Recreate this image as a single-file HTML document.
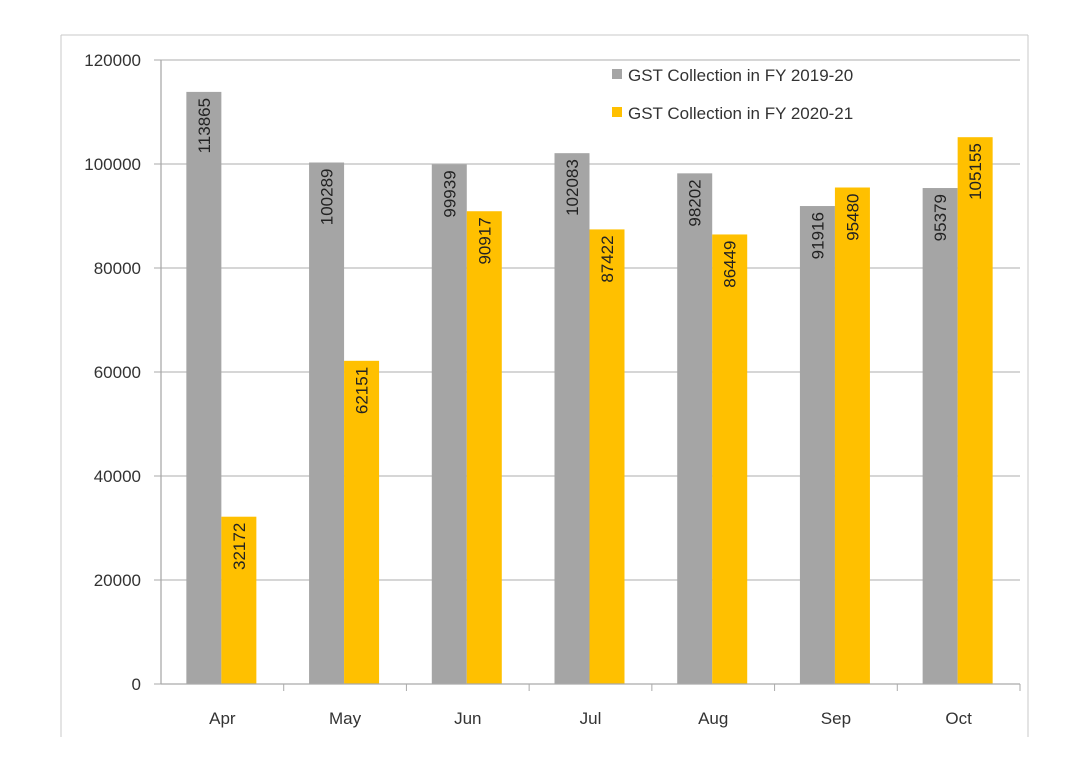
<!DOCTYPE html>
<html><head><meta charset="utf-8"><style>
body{margin:0;background:#fff;}
svg{display:block;font-family:"Liberation Sans",sans-serif;}
</style></head><body>
<svg id="chart" width="1069" height="768">
<line x1="61" y1="35" x2="1028" y2="35" stroke="#c8c8c8"/>
<line x1="61" y1="35" x2="61" y2="737" stroke="#c8c8c8"/>
<line x1="1028" y1="35" x2="1028" y2="737" stroke="#c8c8c8"/>
<g id="grid"></g><g id="bars"></g><g id="axes"></g>
<g>
<rect x="612" y="69" width="10" height="10" fill="#a5a5a5"/>
<text x="628" y="81" font-size="17" fill="#333">GST Collection in FY 2019-20</text>
<rect x="612" y="107" width="10" height="10" fill="#ffc000"/>
<text x="628" y="119" font-size="17" fill="#333">GST Collection in FY 2020-21</text>
</g>
</svg>
<script>
const categories=["Apr","May","Jun","Jul","Aug","Sep","Oct"];
const fy1920=[113865,100289,99939,102083,98202,91916,95379];
const fy2021=[32172,62151,90917,87422,86449,95480,105155];
const yTicks=[0,20000,40000,60000,80000,100000,120000];
const NS="http://www.w3.org/2000/svg";
const X0=161,X1=1020,Y0=684,Y1=60,YMAX=120000;
const y=v=>Y0-(v/YMAX)*(Y0-Y1);
const cw=(X1-X0)/categories.length;
function mk(tag,attrs,parent,txt){const e=document.createElementNS(NS,tag);for(const k in attrs)e.setAttribute(k,attrs[k]);if(txt!==undefined)e.textContent=txt;document.getElementById(parent).appendChild(e);return e;}
yTicks.forEach(t=>{
 if(t>0){const g=mk('line',{x1:X0,x2:X1,y1:y(t),y2:y(t),stroke:'#bdbdbd','stroke-width':1.3},'grid');
 
 }
 const tk=mk('line',{x1:X0-7,x2:X0,y1:y(t),y2:y(t),stroke:'#aaa'},'axes');
 
 
 const l=mk('text',{x:X0-20,y:y(t)+6,'text-anchor':'end','font-size':17,fill:'#333'},'axes',String(t));
 
 
});
const bw=35;
categories.forEach((c,i)=>{
 const cx=X0+cw*(i+0.5);
 [[fy1920[i],'#a5a5a5',cx-bw-1,'bar-2019-'],[fy2021[i],'#ffc000',cx-1,'bar-2020-']].forEach(([v,col,bx,nm])=>{
  const r=mk('rect',{x:bx,y:y(v),width:bw,height:Y0-y(v),fill:col},'bars');
  
  
  const tx=bx+bw/2+6,ty=y(v)+6;
  const t=mk('text',{x:tx,y:ty,'text-anchor':'end','font-size':17,fill:'#222',transform:`rotate(-90 ${tx} ${ty})`},'bars',String(v));
  
  
 });
 const l=mk('text',{x:cx,y:724,'text-anchor':'middle','font-size':17,fill:'#333'},'axes',c);
 
 
 const tk=mk('line',{x1:X0+cw*(i+1),x2:X0+cw*(i+1),y1:Y0,y2:Y0+7,stroke:'#aaa'},'axes');
 
 
});
const ya=mk('line',{x1:X0,x2:X0,y1:Y1,y2:Y0,stroke:'#aaa','stroke-width':1.3},'axes');


const xa=mk('line',{x1:X0,x2:X1,y1:Y0,y2:Y0,stroke:'#aaa','stroke-width':1.3},'axes');


</script>
</body></html>
